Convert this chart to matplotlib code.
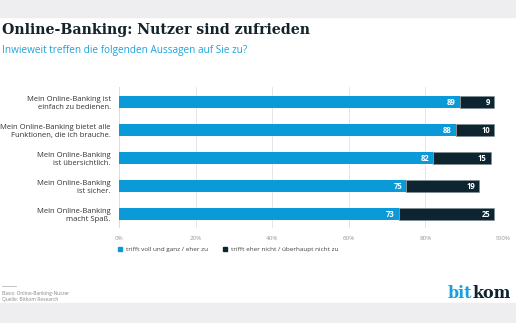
import matplotlib
matplotlib.use("Agg")
import matplotlib.pyplot as plt
from matplotlib.patches import Rectangle

# survey answers, share in percent
aussagen = [
    "Mein Online-Banking ist\neinfach zu bedienen.",
    "Mein Online-Banking bietet alle\nFunktionen, die ich brauche.",
    "Mein Online-Banking\nist übersichtlich.",
    "Mein Online-Banking\nist sicher.",
    "Mein Online-Banking\nmacht Spaß.",
]
zu = [89, 88, 82, 75, 73]
nicht_zu = [9, 10, 15, 19, 25]
ticks = [0, 20, 40, 60, 80, 100]
legend_labels = ["trifft voll und ganz / eher zu", "trifft eher nicht / überhaupt nicht zu"]

BLUE = "#0a9ad8"
DARK = "#0d2530"
GREY = "#eeeef0"

plt.rcParams["font.family"] = ["Open Sans", "DejaVu Sans"]

W, H = 516, 323
fig = plt.figure(figsize=(W / 100, H / 100), dpi=100)

def fy(py):
    return 1 - py / H

# grey bands top and bottom
fig.patches.append(Rectangle((0, fy(17)), 1, 17 / H, transform=fig.transFigure,
                             color=GREY, zorder=0))
fig.patches.append(Rectangle((0, 0), 1, 20 / H, transform=fig.transFigure,
                             color=GREY, zorder=0))

fig.text(2 / W, fy(30), "Online-Banking: Nutzer sind zufrieden", fontsize=10.2,
         fontweight="bold", family="DejaVu Serif", color="#13232b", va="center")
fig.text(2 / W, fy(51), "Inwieweit treffen die folgenden Aussagen auf Sie zu?",
         fontsize=7.2, color="#1fa3dc", va="center")

ax = fig.add_axes([119 / W, fy(228), (502 - 119) / W, (228 - 87) / H])
y = list(range(len(aussagen)))
ax.barh(y, zu, height=0.43, color=BLUE, zorder=3)
ax.barh(y, nicht_zu, left=zu, height=0.43, color=DARK, edgecolor="#7f8c92",
        linewidth=0.4, zorder=3)

for i in y:
    ax.annotate(str(zu[i]), (zu[i], i), xytext=(-3, 0), textcoords="offset points",
                ha="right", va="center", color="white", fontsize=5.5,
                fontweight="bold", zorder=4)
    ax.annotate(str(nicht_zu[i]), (zu[i] + nicht_zu[i], i), xytext=(-3, 0),
                textcoords="offset points", ha="right", va="center",
                color="white", fontsize=5.5, fontweight="bold", zorder=4)

ax.set_xlim(0, 100)
ax.set_ylim(4.5, -0.54)
ax.set_yticks(y)
ax.set_yticklabels(aussagen, fontsize=5.5, color="#333", linespacing=1.2)
ax.set_xticks(ticks)
ax.set_xticklabels([f"{t}%" for t in ticks], fontsize=4.5, color="#999")
ax.tick_params(length=0, pad=6)
ax.tick_params(axis="y", pad=6)
ax.grid(axis="x", color="#e2e2e2", linewidth=0.6, zorder=0)
for s in ax.spines.values():
    s.set_visible(False)
ax.axvline(0, color="#c8c8c8", linewidth=0.7, zorder=1)

# legend
fig.patches.append(Rectangle((118 / W, fy(251)), 4 / W, 4 / H, transform=fig.transFigure,
                             color=BLUE))
fig.text(126 / W, fy(249), legend_labels[0], fontsize=4.6, color="#444", va="center")
fig.patches.append(Rectangle((223 / W, fy(251)), 4 / W, 4 / H, transform=fig.transFigure,
                             color=DARK))
fig.text(231 / W, fy(249), legend_labels[1], fontsize=4.6, color="#444", va="center")

# footer
fig.lines.append(plt.Line2D([2 / W, 16 / W], [fy(286), fy(286)], transform=fig.transFigure,
                            color="#aaa", linewidth=0.5))
fig.text(2 / W, fy(293), "Basis: Online-Banking-Nutzer", fontsize=3.6, color="#888", va="center")
fig.text(2 / W, fy(299), "Quelle: Bitkom Research", fontsize=3.6, color="#888", va="center")

t = fig.text(448 / W, fy(298), "bit", fontsize=11.5, family="DejaVu Serif",
             fontweight="bold", color="#1aa0dc", va="baseline")
fig.canvas.draw()
bb = t.get_window_extent()
fig.text(bb.x1 / W, fy(298), "kom", fontsize=11.5, family="DejaVu Serif",
         fontweight="bold", color=DARK, va="baseline")

fig.savefig("out.png", dpi=100)
